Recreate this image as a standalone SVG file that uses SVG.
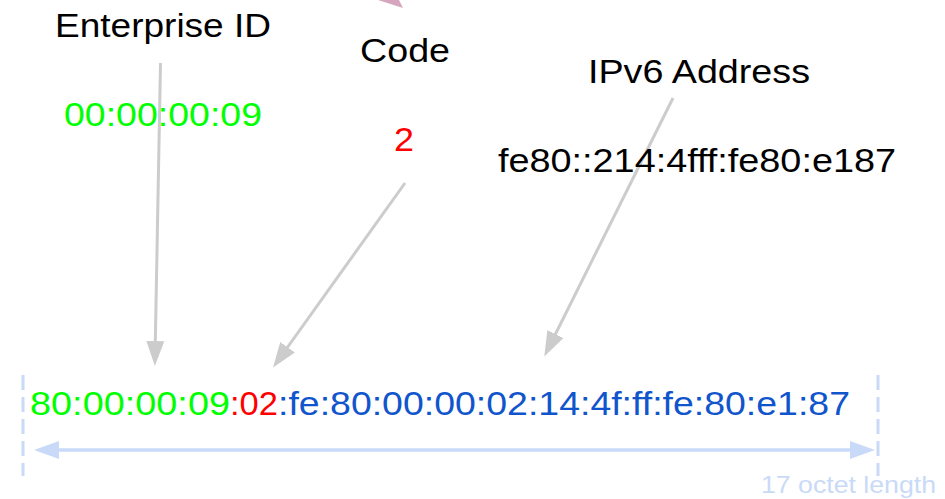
<svg xmlns="http://www.w3.org/2000/svg" width="945" height="499" viewBox="0 0 945 499">
  <style>
    text { font-family: "Liberation Sans", Arial, sans-serif; font-size: 34px; }
    .lbl { fill: #000000; }
    .ent { fill: #00ff00; }
    .code { fill: #ff0000; }
    .ip { fill: #1155cc; }
    .note { fill: #c9daf8; font-size: 24px; }
    .pointer { stroke: #cccccc; stroke-width: 3; fill: none; }
    .span { stroke: #c9daf8; stroke-width: 3.5; fill: none; }
    .edge { stroke: #c9daf8; stroke-width: 3; stroke-dasharray: 15 7; fill: none; }
  </style>
  <defs>
    <marker id="grayHead" markerUnits="userSpaceOnUse" markerWidth="26" markerHeight="20" refX="1" refY="10" orient="auto">
      <path d="M0,1 L25,10 L0,19 Z" fill="#cccccc"/>
    </marker>
    <marker id="blueHead" markerUnits="userSpaceOnUse" markerWidth="26" markerHeight="20" refX="1" refY="10" orient="auto-start-reverse">
      <path d="M0,1 L25,10 L0,19 Z" fill="#c9daf8"/>
    </marker>
  </defs>

  <!-- partially visible arrowhead at the top edge -->
  <path d="M378,0 L399,0 L403,8 Z" fill="#d5a6bd"/>

  <g id="connectors">
    <line class="pointer" x1="160.5" y1="63" x2="155.3" y2="342" marker-end="url(#grayHead)"/>
    <line class="pointer" x1="405" y1="183" x2="287" y2="348" marker-end="url(#grayHead)"/>
    <line class="pointer" x1="673" y1="98" x2="555" y2="335" marker-end="url(#grayHead)"/>
    <line class="span" x1="58" y1="450" x2="851" y2="450" marker-start="url(#blueHead)" marker-end="url(#blueHead)"/>
  </g>

  <g id="enterprise-id">
    <text class="lbl" x="55" y="37" textLength="216" lengthAdjust="spacingAndGlyphs">Enterprise ID</text>
    <text class="ent" x="64" y="126" textLength="198" lengthAdjust="spacingAndGlyphs">00:00:00:09</text>
  </g>

  <g id="code">
    <text class="lbl" x="360" y="62" textLength="90" lengthAdjust="spacingAndGlyphs">Code</text>
    <text class="code" x="394" y="151" textLength="20" lengthAdjust="spacingAndGlyphs">2</text>
  </g>

  <g id="ipv6-address">
    <text class="lbl" x="588" y="83" textLength="222" lengthAdjust="spacingAndGlyphs">IPv6 Address</text>
    <text class="lbl" x="498" y="172" textLength="398" lengthAdjust="spacingAndGlyphs">fe80::214:4fff:fe80:e187</text>
  </g>

  <g id="duid">
    <line class="edge" x1="23" y1="375" x2="23" y2="476"/>
    <line class="edge" x1="878" y1="375" x2="878" y2="476"/>
    <text class="ent" x="30" y="415" textLength="200" lengthAdjust="spacingAndGlyphs">80:00:00:09</text>
    <text class="code" x="230" y="415" textLength="48" lengthAdjust="spacingAndGlyphs">:02</text>
    <text class="ip" x="278" y="415" textLength="572" lengthAdjust="spacingAndGlyphs">:fe:80:00:00:02:14:4f:ff:fe:80:e1:87</text>
    <text class="note" x="761" y="493" textLength="175" lengthAdjust="spacingAndGlyphs">17 octet length</text>
  </g>
</svg>
